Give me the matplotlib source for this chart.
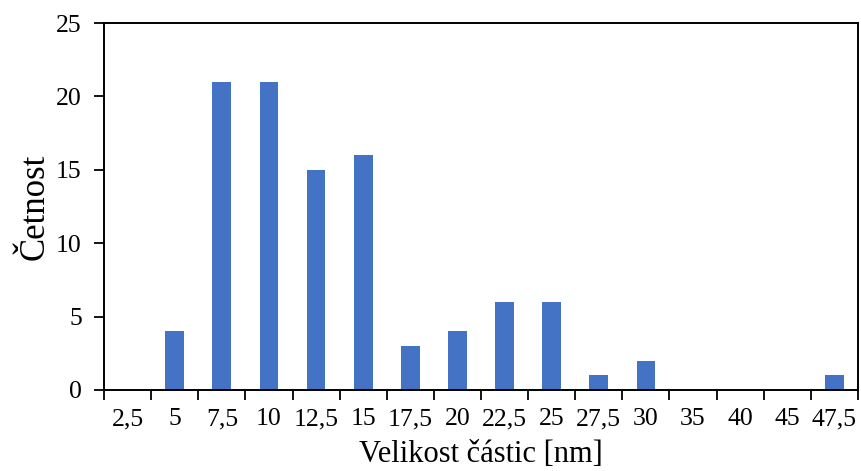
import numpy as np
import matplotlib
matplotlib.use("Agg")
import matplotlib.pyplot as plt

plt.rcParams["font.family"] = ["Liberation Serif", "DejaVu Serif"]

# data
categories = ["2,5", "5", "7,5", "10", "12,5", "15", "17,5", "20",
              "22,5", "25", "27,5", "30", "35", "40", "45", "47,5"]
counts = [0, 4, 21, 21, 15, 16, 3, 4, 6, 6, 1, 2, 0, 0, 0, 1]

fig = plt.figure(figsize=(8.61, 4.71), dpi=100)
ax = fig.add_axes([0.1208, 0.172, 0.8757, 0.779])

x = np.arange(len(categories))
ax.bar(x, counts, width=0.4, color="#4472C4", zorder=2)

ax.set_xlim(-0.5, len(categories) - 0.5)
ax.set_ylim(0, 25)
ax.set_yticks(np.arange(0, 26, 5))

ax.set_xticks(x)
ax.set_xticklabels(categories)
ax.set_xticks(np.arange(-0.5, len(categories), 1), minor=True)
ax.tick_params(axis="x", which="major", length=0, pad=13, labelsize=18.5)
ax.tick_params(axis="x", which="minor", length=7, width=1.3, direction="out")
ax.tick_params(axis="y", length=7, width=1.3, direction="out", labelsize=18.5, pad=9)

for sp in ax.spines.values():
    sp.set_linewidth(1.4)
    sp.set_color("black")

ax.set_xlabel("Velikost částic [nm]", fontsize=22, labelpad=7)
ax.set_ylabel("Četnost", fontsize=25, labelpad=3)

fig.savefig("out.png", dpi=100)
